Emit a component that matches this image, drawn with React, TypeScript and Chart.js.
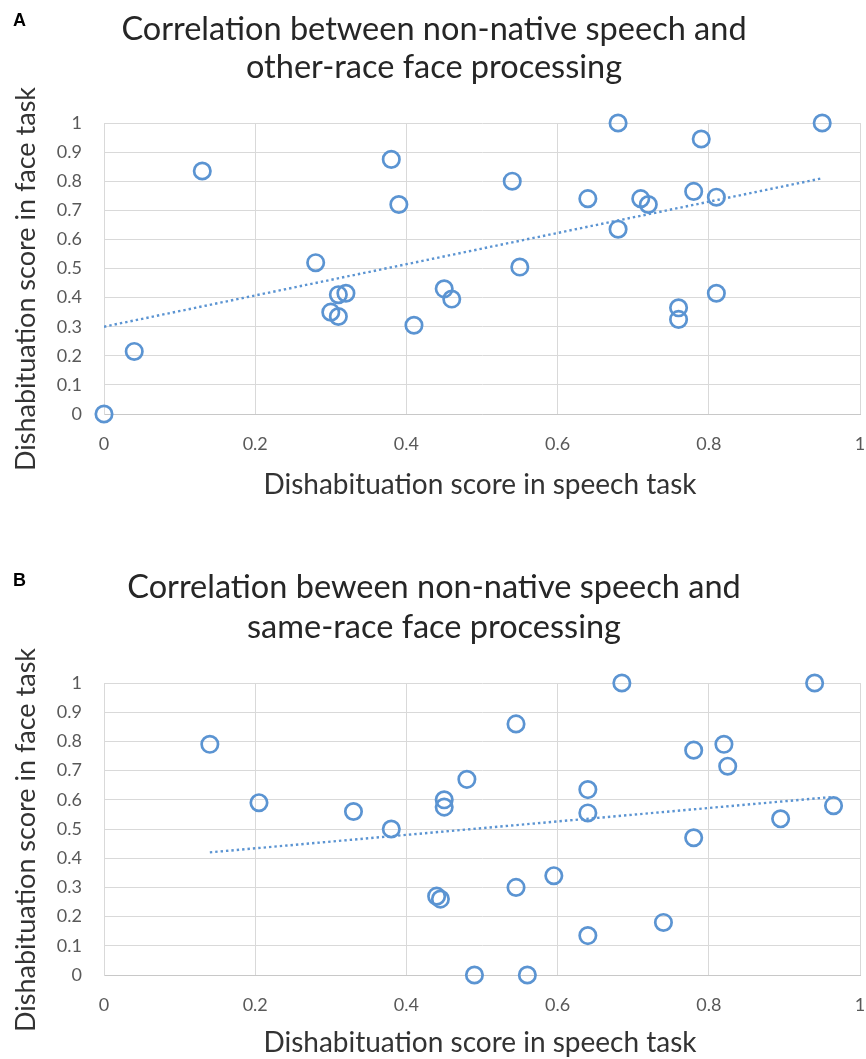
import React, { useEffect, useRef } from "react";
import { Chart, registerables } from "chart.js";

Chart.register(...registerables);

// ---------- Data ----------
const speechA = [0, 0.04, 0.13, 0.38, 0.39, 0.28, 0.31, 0.32, 0.3, 0.31, 0.41, 0.45, 0.46, 0.54, 0.55, 0.68, 0.64, 0.68, 0.71, 0.72, 0.79, 0.78, 0.81, 0.81, 0.76, 0.76, 0.95];
const faceA = [0, 0.215, 0.835, 0.875, 0.72, 0.52, 0.41, 0.415, 0.35, 0.335, 0.305, 0.43, 0.395, 0.8, 0.505, 1.0, 0.74, 0.635, 0.74, 0.72, 0.945, 0.765, 0.745, 0.415, 0.365, 0.325, 1.0];
const trendXA = [0, 0.95];
const trendYA = [0.3, 0.81];

const speechB = [0.14, 0.205, 0.33, 0.38, 0.45, 0.45, 0.44, 0.445, 0.48, 0.545, 0.545, 0.49, 0.56, 0.595, 0.64, 0.64, 0.64, 0.685, 0.74, 0.78, 0.82, 0.825, 0.78, 0.895, 0.94, 0.965];
const faceB = [0.79, 0.59, 0.56, 0.5, 0.6, 0.575, 0.27, 0.26, 0.67, 0.86, 0.3, 0.0, 0.0, 0.34, 0.635, 0.555, 0.135, 1.0, 0.18, 0.77, 0.79, 0.715, 0.47, 0.535, 1.0, 0.58];
const trendXB = [0.14, 0.965];
const trendYB = [0.42, 0.61];

const xTickValues = [0, 0.2, 0.4, 0.6, 0.8, 1];
const xTickLabels = ["0", "0.2", "0.4", "0.6", "0.8", "1"];
const yTickValues = [0, 0.1, 0.2, 0.3, 0.4, 0.5, 0.6, 0.7, 0.8, 0.9, 1];
const yTickLabels = ["0", "0.1", "0.2", "0.3", "0.4", "0.5", "0.6", "0.7", "0.8", "0.9", "1"];

const titleA = ["Correlation between non-native speech and", "other-race face processing"];
const titleB = ["Correlation beween non-native speech and", "same-race face processing"];
const xAxisTitle = "Dishabituation score in speech task";
const yAxisTitle = "Dishabituation score in face task";

// ---------- Styles ----------
const BLUE = "#5b94d2";
const GRID = "#d9d9d9";
const FONT = "Lato, 'Open Sans', sans-serif";

const panelText = {
  id: "panelText",
  afterDraw(chart: any, _args: any, opts: any) {
    const ctx = chart.ctx;
    ctx.save();
    // panel letter
    ctx.fillStyle = "#000";
    ctx.font = "bold 18px 'Liberation Sans', Arial, sans-serif";
    ctx.textAlign = "left";
    ctx.textBaseline = "middle";
    ctx.fillText(opts.letter, 13, opts.letterY);
    // title
    ctx.fillStyle = "#262626";
    ctx.font = `32.5px ${FONT}`;
    ctx.textAlign = "center";
    opts.title.forEach((line: string, i: number) => {
      ctx.fillText(line, 434, opts.titleY[i]);
    });
    // x title
    ctx.fillStyle = "#333";
    ctx.font = `28px ${FONT}`;
    ctx.fillText(xAxisTitle, 480, opts.xTitleY);
    // y title
    ctx.font = `27px ${FONT}`;
    ctx.translate(26, opts.yTitleY);
    ctx.rotate(-Math.PI / 2);
    ctx.fillText(yAxisTitle, 0, 0);
    ctx.restore();
  },
};

function makeChart(canvas: HTMLCanvasElement, cfg: any) {
  const pts = cfg.xs.map((x: number, i: number) => ({ x, y: cfg.ys[i] }));
  const trend = cfg.tx.map((x: number, i: number) => ({ x, y: cfg.ty[i] }));
  return new Chart(canvas, {
    type: "scatter",
    data: {
      datasets: [
        {
          type: "line",
          data: trend,
          borderColor: BLUE,
          borderWidth: 2.4,
          borderDash: [2.4, 3],
          pointRadius: 0,
          fill: false,
        } as any,
        {
          data: pts,
          pointStyle: "circle",
          pointRadius: 8.2,
          pointBorderWidth: 2.7,
          borderColor: BLUE,
          backgroundColor: "rgba(0,0,0,0)",
          clip: false,
        } as any,
      ],
    },
    plugins: [panelText],
    options: {
      animation: false,
      responsive: false,
      events: [],
      layout: { autoPadding: false, padding: { top: cfg.padTop, right: 6, bottom: cfg.padBottom, left: 0 } },
      plugins: {
        legend: { display: false },
        tooltip: { enabled: false },
        panelText: cfg.text,
      } as any,
      scales: {
        x: {
          type: "linear",
          min: 0,
          max: 1,
          afterBuildTicks: (s: any) => {
            s.ticks = xTickValues.map((v) => ({ value: v }));
          },
          afterFit: (s: any) => {
            s.height = 60;
            s.paddingLeft = 0;
            s.paddingRight = 0;
          },
          ticks: {
            callback: (_v: any, i: number) => xTickLabels[i],
            font: { family: FONT, size: 18 },
            color: "#595959",
            padding: 19,
            maxRotation: 0,
          },
          grid: { color: GRID, lineWidth: 1, drawTicks: false },
          border: { color: "#c8c8c8", width: 1 },
        },
        y: {
          type: "linear",
          min: 0,
          max: 1,
          afterBuildTicks: (s: any) => {
            s.ticks = yTickValues.map((v) => ({ value: v }));
          },
          afterFit: (s: any) => {
            s.width = 104;
            s.paddingTop = 0;
            s.paddingBottom = 0;
          },
          ticks: {
            callback: (_v: any, i: number) => yTickLabels[i],
            font: { family: FONT, size: 18 },
            color: "#595959",
            padding: 22,
          },
          grid: { color: GRID, lineWidth: 1, drawTicks: false },
          border: { color: GRID, width: 1 },
        },
      },
    } as any,
  });
}

function Panel({ top, height, cfg }: { top: number; height: number; cfg: any }) {
  const ref = useRef<HTMLCanvasElement>(null);
  useEffect(() => {
    const chart = makeChart(ref.current!, cfg);
    return () => chart.destroy();
  }, []);
  return (
    <div style={{ position: "absolute", left: 0, top, width: 866, height }}>
      <canvas ref={ref} width={866} height={height} style={{ display: "block" }} />
    </div>
  );
}

const cfgA = {
  xs: speechA,
  ys: faceA,
  tx: trendXA,
  ty: trendYA,
  padTop: 123,
  padBottom: 530 - 414 - 60,
  text: { letter: "A", letterY: 21, title: titleA, titleY: [30, 68], xTitleY: 485, yTitleY: 279 },
};

const cfgB = {
  xs: speechB,
  ys: faceB,
  tx: trendXB,
  ty: trendYB,
  padTop: 153,
  padBottom: 529 - 445 - 60,
  text: { letter: "B", letterY: 51, title: titleB, titleY: [58, 98], xTitleY: 513, yTitleY: 310 },
};

export default function App() {
  return (
    <div style={{ position: "absolute", left: 0, top: 0, width: 866, height: 1059, background: "#fff" }}>
      <Panel top={0} height={530} cfg={cfgA} />
      <Panel top={530} height={529} cfg={cfgB} />
    </div>
  );
}
